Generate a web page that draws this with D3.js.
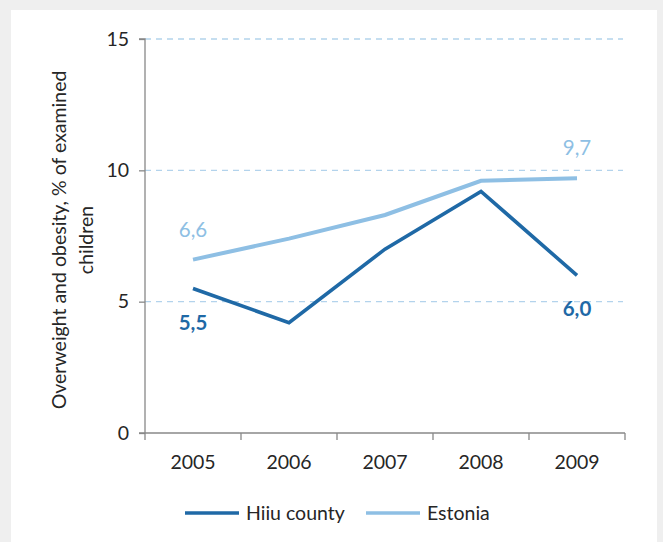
<!DOCTYPE html>
<html><head><meta charset="utf-8">
<script src="https://cdn.jsdelivr.net/npm/d3@7"></script>
<style>
body{margin:0;background:#efefef;}
svg{display:block;}
text{font-family:Lato, "Open Sans", sans-serif;fill:#262626;}
</style></head>
<body>
<script>
const years = ["2005","2006","2007","2008","2009"];
const hiiu = [5.5, 4.2, 7.0, 9.2, 6.0];
const estonia = [6.6, 7.4, 8.3, 9.6, 9.7];
const yTicks = [0, 5, 10, 15];
const seriesNames = ["Hiiu county", "Estonia"];
const colors = ["#1f69a6", "#8ebfe4"];

const W = 663, H = 542;
const svg = d3.select("body").append("svg").attr("width", W).attr("height", H);
svg.append("rect").attr("x", 11).attr("y", 10).attr("width", 646).attr("height", H - 10).attr("fill", "#fff");

const pL = 145, pR = 625, pT = 39, pB = 433;
const x = d3.scaleBand().domain(years).range([pL, pR]);
const y = d3.scaleLinear().domain([0, 15]).range([pB, pT]);

// gridlines
svg.append("g").selectAll("line").data(yTicks.filter(d => d > 0)).join("line")
  .attr("x1", pL).attr("x2", pR - 2)
  .attr("y1", d => y(d)).attr("y2", d => y(d))
  .attr("stroke", "#b3d3ec").attr("stroke-width", 1.3).attr("stroke-dasharray", "6,5");

// y axis
const ya = svg.append("g").attr("transform", `translate(${pL},0)`)
  .call(d3.axisLeft(y).tickValues(yTicks).tickSize(6).tickPadding(10));
ya.select(".domain").attr("stroke", "#888").attr("stroke-width", 1.3).attr("d", `M-6,${pT}H0V${pB}`);
ya.selectAll(".tick line").attr("stroke", "#888").attr("stroke-width", 1.3);
ya.selectAll(".tick text").attr("font-size", 19.5).attr("fill", "#262626").style("font-family", "Lato, sans-serif");

// x axis
const xa = svg.append("g").attr("transform", `translate(0,${pB})`)
  .call(d3.axisBottom(x).tickSize(0).tickPadding(22));
xa.select(".domain").attr("stroke", "#888").attr("stroke-width", 1.3).attr("d", `M${pL - 6},0H${pR}`);
xa.selectAll(".tick text").attr("font-size", 19.5).attr("fill", "#262626").style("font-family", "Lato, sans-serif");
const bounds = [...years.map(d => x(d)), pR];
svg.append("g").selectAll("line").data(bounds).join("line")
  .attr("x1", d => d).attr("x2", d => d).attr("y1", pB).attr("y2", pB + 7)
  .attr("stroke", "#888").attr("stroke-width", 1.3);

// lines
const line = d3.line().x((d, i) => x(years[i]) + x.bandwidth() / 2).y(d => y(d));
[estonia, hiiu].forEach((s, k) => {
  svg.append("path").datum(s).attr("d", line).attr("fill", "none")
    .attr("stroke", k === 0 ? colors[1] : colors[0]).attr("stroke-width", k === 0 ? 4 : 3.6)
    .attr("stroke-linejoin", "miter");
});

// data labels
const fmt = v => d3.format(".1f")(v).replace(".", ",");
const cx = i => x(years[i]) + x.bandwidth() / 2;
const labels = [
  {i: 0, v: estonia[0], dy: -23, c: colors[1], b: false},
  {i: 4, v: estonia[4], dy: -23, c: colors[1], b: false},
  {i: 0, v: hiiu[0], dy: 41, c: colors[0], b: true},
  {i: 4, v: hiiu[4], dy: 41, c: colors[0], b: true}
];
svg.append("g").selectAll("text").data(labels).join("text")
  .attr("x", d => cx(d.i)).attr("y", d => y(d.v) + d.dy)
  .attr("text-anchor", "middle").attr("font-size", 20.5)
  .attr("font-weight", d => d.b ? "bold" : "normal")
  .style("fill", d => d.c).text(d => fmt(d.v));

// y title
const yt = svg.append("text").attr("transform", "translate(66,240) rotate(-90)")
  .attr("text-anchor", "middle").attr("font-size", 19.5);
yt.append("tspan").attr("x", 0).attr("dy", 0).text("Overweight and obesity,  % of examined");
yt.append("tspan").attr("x", 0).attr("dy", 27).text("children");

// legend
const lg = svg.append("g");
const legItems = [{n: seriesNames[0], c: colors[0], x: 185}, {n: seriesNames[1], c: colors[1], x: 366}];
legItems.forEach(d => {
  lg.append("line").attr("x1", d.x).attr("x2", d.x + 54).attr("y1", 513).attr("y2", 513)
    .attr("stroke", d.c).attr("stroke-width", 3.6);
  lg.append("text").attr("x", d.x + 61).attr("y", 520).attr("font-size", 19.5).text(d.n);
});
</script>
</body></html>
